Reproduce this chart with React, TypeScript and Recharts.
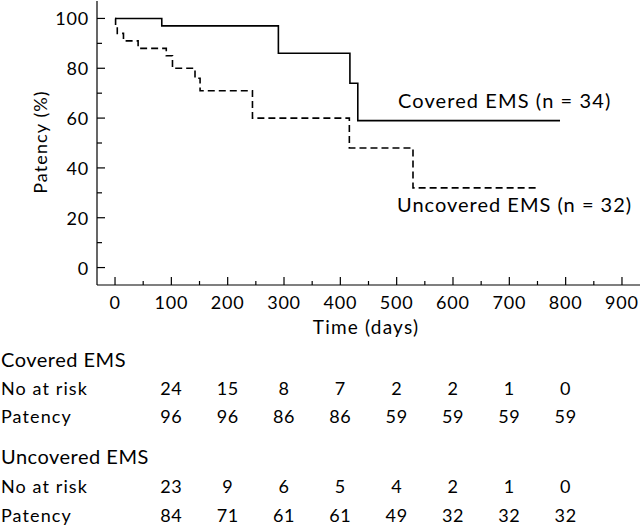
import { LineChart, Line, XAxis, YAxis, Customized } from 'recharts'

const FONT = 'Lato, "Open Sans", sans-serif'

// Kaplan-Meier steps (days, patency %)
const coveredDays = [0, 83, 290, 417, 431, 790]
const coveredPatency = [100, 97, 86, 74, 59, 59]
const uncoveredDays = [0, 1, 4, 15, 41, 91, 102, 142, 151, 244, 416, 529, 749]
const uncoveredPatency = [100, 97, 94, 91, 88, 85, 80, 76, 71, 60, 48, 32, 32]

// table under the plot
const tableDays = [100, 200, 300, 400, 500, 600, 700, 800]
const coveredAtRisk = [24, 15, 8, 7, 2, 2, 1, 0]
const coveredTablePatency = [96, 96, 86, 86, 59, 59, 59, 59]
const uncoveredAtRisk = [23, 9, 6, 5, 4, 2, 1, 0]
const uncoveredTablePatency = [84, 71, 61, 61, 49, 32, 32, 32]

const xTicks = [0, 50, 100, 150, 200, 250, 300, 350, 400, 450, 500, 550, 600, 650, 700, 750, 800, 850, 900]
const yTicks = [0, 10, 20, 30, 40, 50, 60, 70, 80, 90, 100]
const xDomain = [-32, 932]
const yDomain = [-7, 107]

const W = 640
const H = 527
const margin = { top: 1, right: 0, left: 37, bottom: 212 }
const Y_AXIS_W = 60
const X_AXIS_H = 30

const coveredData = coveredDays.map((d, i) => ({ day: d, patency: coveredPatency[i] }))
const uncoveredData = uncoveredDays.map((d, i) => ({ day: d, patency: uncoveredPatency[i] }))

const plotLeft = margin.left + Y_AXIS_W
const plotWidth = W - plotLeft - margin.right
const xPos = (d: number) => plotLeft + ((d - xDomain[0]) / (xDomain[1] - xDomain[0])) * plotWidth

function XTick(props: any) {
  const { x, y, payload } = props
  const major = payload.value % 100 === 0
  return (
    <g>
      <line x1={x} x2={x} y1={y} y2={y - (major ? 8 : 4)} stroke="#000" strokeWidth={1.2} />
      {major && (
        <text x={x} y={y + 24} textAnchor="middle" fontSize={18} letterSpacing={0.8} fontFamily={FONT} fill="#000">
          {payload.value}
        </text>
      )}
    </g>
  )
}

function YTick(props: any) {
  const { x, y, payload } = props
  const major = payload.value % 20 === 0
  return (
    <g>
      <line x1={x} x2={x + (major ? 8 : 5)} y1={y} y2={y} stroke="#000" strokeWidth={1.2} />
      {major && (
        <text x={x - 8} y={y + 7} textAnchor="end" fontSize={18} letterSpacing={0.8} fontFamily={FONT} fill="#000">
          {payload.value}
        </text>
      )}
    </g>
  )
}

function Overlay() {
  const txt = { fontFamily: FONT, fill: '#000' }
  const row = (label: string, values: number[], y: number) => (
    <g key={label + y}>
      <text x={1} y={y} fontSize={18} letterSpacing={1.1} {...txt}>{label}</text>
      {values.map((v, i) => (
        <text key={i} x={xPos(tableDays[i])} y={y} fontSize={18} letterSpacing={0.6} textAnchor="middle" {...txt}>{v}</text>
      ))}
    </g>
  )
  return (
    <g>
      <text x={366} y={334} fontSize={19} letterSpacing={1.2} textAnchor="middle" {...txt}>Time (days)</text>
      <text transform="rotate(-90)" x={-142} y={47} fontSize={18} letterSpacing={1.1} textAnchor="middle" {...txt}>Patency (%)</text>
      <text x={398} y={108} fontSize={20} letterSpacing={1.1} {...txt}>Covered EMS (n = 34)</text>
      <text x={397} y={212} fontSize={20} letterSpacing={1.0} {...txt}>Uncovered EMS (n = 32)</text>

      <text x={1} y={367} fontSize={20} letterSpacing={0.5} {...txt}>Covered EMS</text>
      {row('No at risk', coveredAtRisk, 395)}
      {row('Patency', coveredTablePatency, 423)}
      <text x={1} y={464} fontSize={20} letterSpacing={0.5} {...txt}>Uncovered EMS</text>
      {row('No at risk', uncoveredAtRisk, 493)}
      {row('Patency', uncoveredTablePatency, 522)}
    </g>
  )
}

export default function App() {
  return (
    <div style={{ width: W, height: H, background: '#fff' }}>
      <style>{'body{margin:0;background:#fff}'}</style>
      <LineChart width={W} height={H} margin={margin} style={{ fontFamily: FONT }}>
        <XAxis
          type="number"
          dataKey="day"
          domain={xDomain}
          ticks={xTicks}
          interval={0}
          height={X_AXIS_H}
          tickSize={0}
          tickMargin={0}
          tickLine={false}
          axisLine={{ stroke: '#000', strokeWidth: 1.2 }}
          tick={<XTick />}
          allowDataOverflow
        />
        <YAxis
          type="number"
          domain={yDomain}
          ticks={yTicks}
          interval={0}
          width={Y_AXIS_W}
          tickSize={0}
          tickMargin={0}
          tickLine={false}
          axisLine={{ stroke: '#000', strokeWidth: 1.2 }}
          tick={<YTick />}
          allowDataOverflow
        />
        <Line
          data={coveredData}
          dataKey="patency"
          type="stepAfter"
          stroke="#000"
          strokeWidth={1.6}
          dot={false}
          activeDot={false}
          isAnimationActive={false}
        />
        <Line
          data={uncoveredData}
          dataKey="patency"
          type="stepAfter"
          stroke="#000"
          strokeWidth={1.6}
          strokeDasharray="7 4"
          dot={false}
          activeDot={false}
          isAnimationActive={false}
        />
        <Customized component={Overlay} />
      </LineChart>
    </div>
  )
}
